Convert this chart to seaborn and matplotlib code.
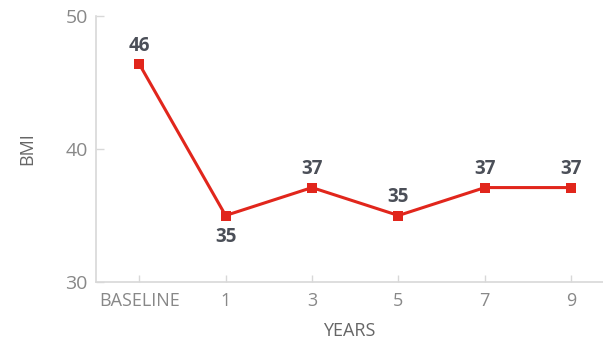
import matplotlib
matplotlib.use("Agg")
import matplotlib.pyplot as plt
import seaborn as sns
import pandas as pd

categories = ["BASELINE", "1", "3", "5", "7", "9"]
bmi_values = [46.4, 35.0, 37.1, 35.0, 37.1, 37.1]
point_labels = ["46", "35", "37", "35", "37", "37"]
y_ticks = [30, 40, 50]

sns.set_style("white")
plt.rcParams['font.family'] = ['Open Sans', 'DejaVu Sans']

df = pd.DataFrame({"pos": range(len(categories)), "bmi": bmi_values})

fig = plt.figure(figsize=(6.03, 3.43), dpi=100)
ax = fig.add_axes([96/603, 1-282/343, 1-96/603, (282-16)/343])

red = "#e1261c"
sns.lineplot(data=df, x="pos", y="bmi", ax=ax, color=red, linewidth=2.2,
             marker="s", markersize=7, markeredgewidth=0, markerfacecolor=red)

for i, (v, lab) in enumerate(zip(bmi_values, point_labels)):
    if i == 1:
        ax.annotate(lab, (i, v), xytext=(0, -8), textcoords="offset points",
                    ha="center", va="top", fontsize=13.5, fontweight="bold", color="#4b4f58")
    else:
        ax.annotate(lab, (i, v), xytext=(0, 6), textcoords="offset points",
                    ha="center", va="bottom", fontsize=13.5, fontweight="bold", color="#4b4f58")

ax.set_xlim(-0.5, (603-96)/86.4 - 0.5)
ax.set_ylim(30, 50)
ax.set_xticks(range(len(categories)))
ax.set_xticklabels(categories)
ax.set_yticks(y_ticks)

for s in ["top", "right"]:
    ax.spines[s].set_visible(False)
for s in ["left", "bottom"]:
    ax.spines[s].set_color("#d8d8d8")
    ax.spines[s].set_linewidth(1.2)

ax.tick_params(axis="x", direction="in", length=5, color="#d8d8d8", width=1,
               labelsize=13, labelcolor="#888888", pad=7, bottom=True)
ax.tick_params(axis="y", direction="in", length=6, color="#d8d8d8", width=1,
               labelsize=14, labelcolor="#888888", pad=6, left=True)

ax.set_xlabel("YEARS", fontsize=13, color="#666666", labelpad=9)
ax.set_ylabel("BMI", fontsize=13, color="#666666", labelpad=21)

fig.savefig("out.png", dpi=100)
